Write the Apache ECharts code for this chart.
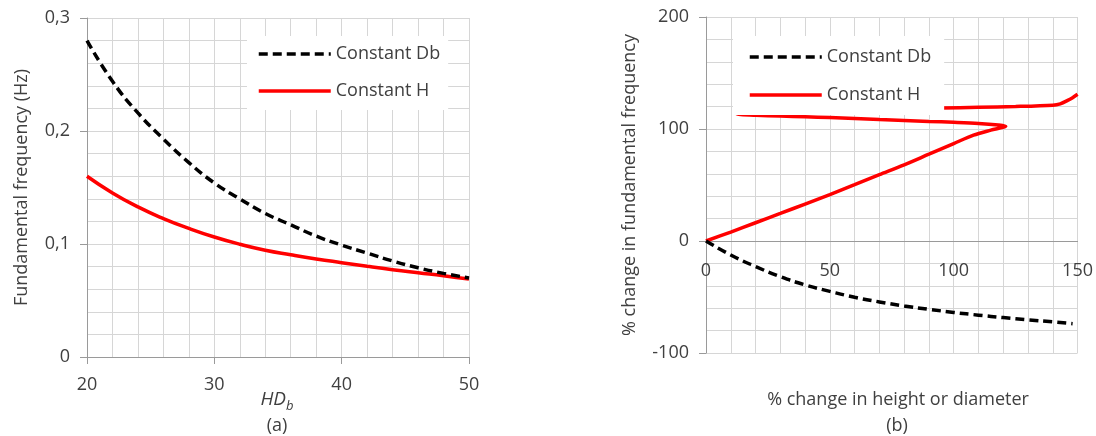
<!DOCTYPE html>
<html>
<head>
<meta charset="utf-8">
<script src="https://cdn.jsdelivr.net/npm/echarts@6/dist/echarts.min.js"></script>
<style>
  html, body { margin: 0; padding: 0; background: #ffffff; }
  #chart { width: 1096px; height: 436px; }
</style>
</head>
<body>
<div id="chart"></div>
<script>
// ---- Panel (a): fundamental frequency vs HD_b ----
const hdb = [20, 22, 24, 26, 28, 30, 32, 34, 36, 38, 40, 42, 44, 46, 48, 50];
const freqConstDb = [0.280, 0.244, 0.216, 0.193, 0.172, 0.154, 0.140, 0.127, 0.117, 0.107, 0.099, 0.092, 0.085, 0.079, 0.074, 0.070];
const freqConstH  = [0.160, 0.1452, 0.1328, 0.1225, 0.1138, 0.1062, 0.0998, 0.0945, 0.0905, 0.0868, 0.0835, 0.0803, 0.0773, 0.0746, 0.072, 0.069];

// ---- Panel (b): % change in frequency vs % change in height or diameter ----
const pctDimDb  = [0, 10, 20, 30, 40, 50, 60, 70, 80, 90, 100, 110, 120, 130, 140, 148];
const pctFreqDb = [0, -12.5, -22.8, -31.8, -39.2, -45, -50.2, -54.4, -58, -61, -63.8, -66.2, -68.4, -70.4, -72.2, -73.8];

const pctDimH  = [0, 10, 20, 30, 40, 50, 60, 70, 80, 90, 100, 108, 115, 121,
                  118, 110, 100, 90, 80, 70, 60, 50, 40, 30, 20, 14, 12.5,
                  14, 20, 30, 40, 50, 60, 70, 80, 95, 110, 125, 140, 143, 146, 148, 150];
const pctFreqH = [0, 8, 16.3, 24.6, 33, 41.5, 50.3, 59.2, 68, 77.5, 87, 94.5, 99, 102.5,
                  103.6, 105, 106, 106.8, 107.6, 108.4, 109.3, 110.2, 110.9, 111.6, 112.3, 112.9, 113.5,
                  114.3, 114.9, 115.5, 116.1, 116.7, 117.3, 117.8, 118.2, 118.7, 119.4, 120.1, 121.3, 122.5, 125.5, 128, 131];

const seriesNames = ['Constant Db', 'Constant H'];

const FONT = 'Open Sans';
const TXT = '#404040';
const AX = '#9a9a9a';
const GRIDC = '#d6d6d6';

function pairs(xs, ys) { return xs.map((x, i) => [x, ys[i]]); }

function valueAxis(extra) {
  return Object.assign({
    type: 'value',
    axisLine: { show: true, lineStyle: { color: AX, width: 1 } },
    axisTick: { show: true, length: 7, lineStyle: { color: AX } },
    axisLabel: { fontSize: 18, color: TXT, fontFamily: FONT },
    splitLine: { show: true, lineStyle: { color: GRIDC, width: 1 } },
    minorTick: { show: false, splitNumber: 5 },
    minorSplitLine: { show: true, lineStyle: { color: GRIDC, width: 1 } }
  }, extra);
}

const dashedStyle = { color: '#000000', width: 3.5, type: [9, 5] };
const redStyle = { color: '#ff0000', width: 3.5, type: 'solid' };
const legendItemStyle = { color: 'rgba(0,0,0,0)', borderColor: 'rgba(0,0,0,0)', borderWidth: 0, opacity: 0 };
const legendData = [
  { name: seriesNames[0], lineStyle: { color: '#000000', width: 3.5, type: [9, 5] } },
  { name: seriesNames[1], lineStyle: { color: '#ff0000', width: 3.5, type: 'solid' } }
];

const chart = echarts.init(document.getElementById('chart'), null, { renderer: 'canvas' });
chart.setOption({
  animation: false,
  backgroundColor: '#ffffff',
  textStyle: { fontFamily: FONT },
  grid: [
    { left: 87, top: 18, width: 382, height: 339 },
    { left: 706, top: 17, width: 372, height: 336 }
  ],
  xAxis: [
    valueAxis({ gridIndex: 0, min: 20, max: 50, interval: 10,
      axisLine: { show: true, onZero: false, lineStyle: { color: AX, width: 1 } },
      axisLabel: { fontSize: 18, color: TXT, fontFamily: FONT, margin: 19 } }),
    valueAxis({ gridIndex: 1, min: 0, max: 150, interval: 50,
      axisLine: { show: true, onZero: true, lineStyle: { color: AX, width: 1 } },
      axisTick: { show: false },
      axisLabel: { fontSize: 18, color: TXT, fontFamily: FONT, margin: -91 } })
  ],
  yAxis: [
    valueAxis({ gridIndex: 0, min: 0, max: 0.3, interval: 0.1,
      axisLine: { show: true, onZero: false, lineStyle: { color: AX, width: 1 } },
      axisLabel: { fontSize: 18, color: TXT, fontFamily: FONT, margin: 17,
        formatter: v => String(Math.round(v * 10) / 10).replace('.', ',') },
      name: 'Fundamental frequency (Hz)', nameLocation: 'middle', nameGap: 56,
      nameTextStyle: { fontSize: 18, color: TXT, fontFamily: FONT } }),
    valueAxis({ gridIndex: 1, min: -100, max: 200, interval: 100,
      axisLine: { show: true, onZero: false, lineStyle: { color: AX, width: 1 } },
      axisLabel: { fontSize: 18, color: TXT, fontFamily: FONT, margin: 17 },
      name: '% change in fundamental frequency', nameLocation: 'middle', nameGap: 67,
      nameTextStyle: { fontSize: 18, color: TXT, fontFamily: FONT } })
  ],
  legend: [
    { orient: 'vertical', left: 247, top: 36, padding: [8, 8, 9, 10],
      itemWidth: 72, itemHeight: 14, itemGap: 17, backgroundColor: '#ffffff',
      itemStyle: legendItemStyle, lineStyle: { width: 3.5 },
      textStyle: { fontSize: 18, color: TXT, fontFamily: FONT, lineHeight: 20 },
      data: legendData, selectedMode: false },
    { orient: 'vertical', left: 733, top: 36, padding: [11, 13, 10, 15],
      itemWidth: 72, itemHeight: 14, itemGap: 18, backgroundColor: '#ffffff',
      itemStyle: legendItemStyle, lineStyle: { width: 3.5 },
      textStyle: { fontSize: 18, color: TXT, fontFamily: FONT, lineHeight: 20 },
      data: legendData, selectedMode: false }
  ],
  series: [
    { name: seriesNames[0], type: 'line', xAxisIndex: 0, yAxisIndex: 0, smooth: true,
      symbol: 'none', lineStyle: dashedStyle, itemStyle: { color: '#000000' },
      data: pairs(hdb, freqConstDb), z: 3 },
    { name: seriesNames[1], type: 'line', xAxisIndex: 0, yAxisIndex: 0, smooth: true,
      symbol: 'none', lineStyle: redStyle, itemStyle: { color: '#ff0000' },
      data: pairs(hdb, freqConstH), z: 2 },
    { name: seriesNames[0], type: 'line', xAxisIndex: 1, yAxisIndex: 1, smooth: true,
      symbol: 'none', lineStyle: dashedStyle, itemStyle: { color: '#000000' },
      data: pairs(pctDimDb, pctFreqDb), z: 3 },
    { name: seriesNames[1], type: 'line', xAxisIndex: 1, yAxisIndex: 1, smooth: 0.3,
      symbol: 'none', lineStyle: redStyle, itemStyle: { color: '#ff0000' },
      data: pairs(pctDimH, pctFreqH), z: 2 }
  ],
  graphic: [
    { type: 'text', x: 277, y: 400, style: {
        text: '{i|HD}{s|b}', textAlign: 'center', textVerticalAlign: 'middle',
        rich: {
          i: { fontSize: 19, fontStyle: 'italic', fontFamily: FONT, fill: TXT, lineHeight: 26 },
          s: { fontSize: 13, fontStyle: 'italic', fontFamily: FONT, fill: TXT, lineHeight: 14, verticalAlign: 'bottom' }
        } } },
    { type: 'text', x: 277, y: 426, style: { text: '(a)', textAlign: 'center', textVerticalAlign: 'middle',
        font: '18px "Open Sans"', fill: TXT } },
    { type: 'text', x: 898, y: 400, style: { text: '% change in height or diameter', textAlign: 'center',
        textVerticalAlign: 'middle', font: '18px "Open Sans"', fill: TXT } },
    { type: 'text', x: 897, y: 426, style: { text: '(b)', textAlign: 'center', textVerticalAlign: 'middle',
        font: '18px "Open Sans"', fill: TXT } }
  ]
});
</script>
</body>
</html>
